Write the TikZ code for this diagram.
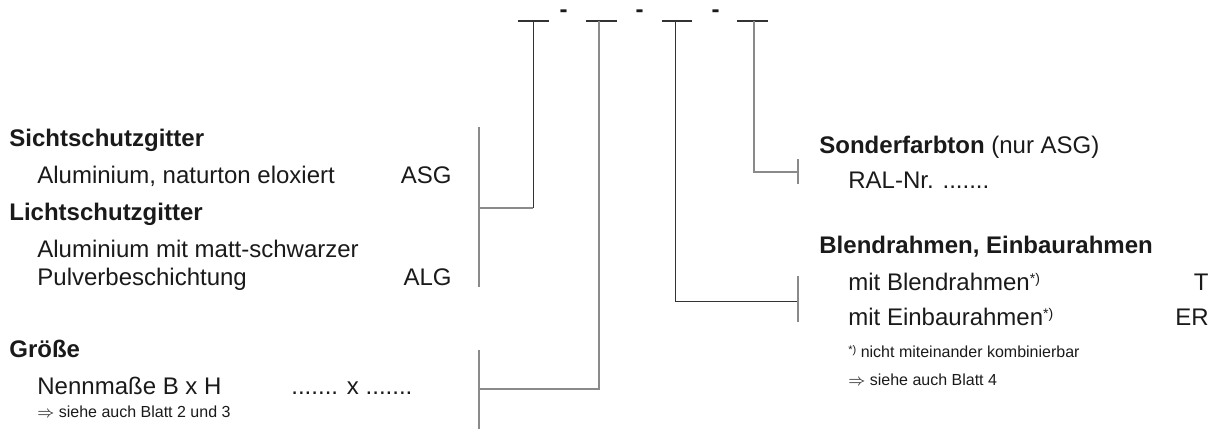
\documentclass[tikz,border=0pt]{standalone}
\usepackage{fontspec}
\setmainfont{Liberation Sans}
\definecolor{txt}{HTML}{1A1A1A}
\definecolor{lgray}{HTML}{8A8A8A}
\definecolor{ldark}{HTML}{333333}
\begin{document}
\begin{tikzpicture}[x=0.5pt,y=-0.5pt,
  lbl/.style={anchor=base west,inner sep=0pt,text=txt,font=\fontsize{12pt}{14pt}\selectfont},
  lblr/.style={lbl,anchor=base east},
  head/.style={lbl,font=\fontsize{12pt}{14pt}\selectfont\bfseries},
  note/.style={lbl,font=\fontsize{8pt}{10pt}\selectfont},
  hyph/.style={anchor=base,inner sep=0pt,text=txt,font=\fontsize{12pt}{14pt}\selectfont\bfseries},
  topbar/.style={draw=ldark,line width=0.75pt},
  darkline/.style={draw=ldark,line width=0.45pt},
  grayline/.style={draw=lgray,line width=0.65pt}]
\useasboundingbox (0,0) rectangle (1222,429);
\newcommand{\fnmark}{{\fontsize{7pt}{7pt}\selectfont\raisebox{3.4pt}{*)}}}

% top bars and hyphens
\coordinate (b1l) at (518,21); \coordinate (b1r) at (549,21);
\coordinate (b2l) at (586,21); \coordinate (b2r) at (617,21);
\coordinate (b3l) at (662,21); \coordinate (b3r) at (692,21);
\coordinate (b4l) at (737,21); \coordinate (b4r) at (768,21);
\draw[topbar] (b1l) -- (b1r);
\draw[topbar] (b2l) -- (b2r);
\draw[topbar] (b3l) -- (b3r);
\draw[topbar] (b4l) -- (b4r);
\node[hyph] (h1) at (563.5,17) {-};
\node[hyph] (h2) at (639.5,17) {-};
\node[hyph] (h3) at (715.5,17) {-};

% drop points
\coordinate (d1) at (533,21);
\coordinate (d2) at (599,21);
\coordinate (d3) at (675,21);
\coordinate (d4) at (754,21);

% junctions and brackets
\coordinate (j1) at (533,208);  \coordinate (k1) at (479,208);
\coordinate (k1t) at (479,127); \coordinate (k1b) at (479,287);
\coordinate (j2) at (599,389);  \coordinate (k2) at (479,389);
\coordinate (k2t) at (479,350); \coordinate (k2b) at (479,429);
\coordinate (j3) at (675,301);  \coordinate (k3) at (798,301);
\coordinate (k3t) at (798,276); \coordinate (k3b) at (798,322);
\coordinate (j4) at (754,172);  \coordinate (k4) at (798,172);
\coordinate (k4t) at (798,159); \coordinate (k4b) at (798,184);

\draw[darkline] (d1) -- (j1);
\draw[grayline] (j1) -- (k1);
\draw[grayline] (k1t) -- (k1b);
\draw[grayline] (d2) -- (j2) -- (k2);
\draw[grayline] (k2t) -- (k2b);
\draw[darkline] (d3) -- (j3) -- (k3);
\draw[grayline] (k3t) -- (k3b);
\draw[grayline] (d4) -- (j4) -- (k4);
\draw[grayline] (k4t) -- (k4b);

% left texts
\node[head] (s1) at (9,146) {Sichtschutzgitter};
\node[lbl] (s2) at (37,183) {Aluminium, naturton eloxiert};
\node[lblr] (s3) at (452,183) {ASG};
\node[head] (l1) at (9,220) {Lichtschutzgitter};
\node[lbl] (l2) at (37,257) {Aluminium mit matt-schwarzer};
\node[lbl] (l3) at (37,285) {Pulverbeschichtung};
\node[lblr] (l4) at (452,285) {ALG};
\node[head] (g1) at (9,357) {Größe};
\node[lbl] (g2) at (37,394) {Nennmaße B x H};
\node[lbl] (g3) at (291,394) {....... x .......};
\node[note] (g4) at (37,417) {$\Rightarrow$ siehe auch Blatt 2 und 3};

% right texts
\node[lbl] (r1) at (819,153) {\textbf{Sonderfarbton} (nur ASG)};
\node[lbl] (r2) at (848,188) {RAL-Nr. .......};
\node[head] (r3) at (819,253) {Blendrahmen, Einbaurahmen};
\node[lbl] (r4) at (848,290) {mit Blendrahmen\fnmark};
\node[lblr] (r5) at (1209,290) {T};
\node[lbl] (r6) at (848,325) {mit Einbaurahmen\fnmark};
\node[lblr] (r7) at (1209,325) {ER};
\node[note] (r8) at (848,357) {{\fontsize{5.5pt}{5.5pt}\selectfont\raisebox{2pt}{*)}} nicht miteinander kombinierbar};
\node[note] (r9) at (848,385) {$\Rightarrow$ siehe auch Blatt 4};
\end{tikzpicture}
\end{document}
